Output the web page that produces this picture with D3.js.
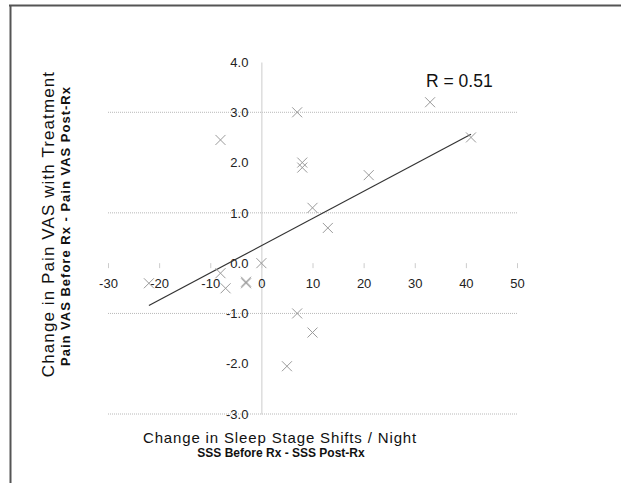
<!DOCTYPE html>
<html>
<head>
<meta charset="utf-8">
<script src="https://cdn.jsdelivr.net/npm/d3@7"></script>
<style>
  body { margin: 0; background: #fff; }
  text { font-family: 'Liberation Sans', Arial, sans-serif; }
</style>
</head>
<body>
<div id="chart"></div>
<script>
// change in sleep stage shifts per night (x) and in pain VAS (y), one per patient
var sssChange = [-22, -8, -8, -7, -3, -3, 0, 7, 8, 8, 10, 13, 21, 33, 41, 7, 10, 5];
var vasChange = [-0.4, 2.45, -0.2, -0.5, -0.4, -0.37, 0.0, 3.0, 2.0, 1.9, 1.1, 0.7, 1.75, 3.2, 2.5, -1.0, -1.38, -2.05];

var xTicks = [-30, -20, -10, 0, 10, 20, 30, 40, 50];
var yTicks = [-3, -2, -1, 0, 1, 2, 3, 4];
var gridValues = [3, 1, -1, -3];
var rLabel = 'R = 0.51';

var data = sssChange.map(function(d, i) {
  return {x: d, y: vasChange[i]};
});

var fullWidth = 621;
var fullHeight = 483;

var svg = d3.select('#chart').append('svg')
  .attr('width', fullWidth)
  .attr('height', fullHeight);

// frame lines, top and left only like the cropped original
svg.append('line')
  .attr('x1', 9).attr('x2', fullWidth)
  .attr('y1', 5.5).attr('y2', 5.5)
  .attr('stroke', '#555').attr('stroke-width', 2);
svg.append('line')
  .attr('x1', 10.5).attr('x2', 10.5)
  .attr('y1', 5).attr('y2', fullHeight)
  .attr('stroke', '#555').attr('stroke-width', 2);

var xScale = d3.scaleLinear()
  .domain([-30, 50])
  .range([108, 517]);

var yScale = d3.scaleLinear()
  .domain([-3, 4])
  .range([414, 62]);

// dotted gridlines only at the odd values
svg.append('g')
  .classed('grid', true)
  .selectAll('line')
    .data(gridValues)
  .enter().append('line')
    .attr('x1', xScale(-30))
    .attr('x2', xScale(50))
    .attr('y1', function(d) { return yScale(d); })
    .attr('y2', function(d) { return yScale(d); })
    .attr('stroke', '#b8b8b8')
    .attr('stroke-dasharray', '1,1');

// y axis crosses at x = 0
var yAxis = d3.axisLeft(yScale)
  .tickValues(yTicks)
  .tickSize(0)
  .tickPadding(13)
  .tickFormat(function(d) { return d.toFixed(1); });

var yAxisG = svg.append('g')
  .classed('y axis', true)
  .attr('transform', 'translate(' + xScale(0) + ',0)')
  .call(yAxis);
yAxisG.select('.domain').attr('stroke', '#ccc');
yAxisG.selectAll('text')
  .attr('font-size', 13)
  .attr('fill', '#222')
  .style('font-family', "'Liberation Sans', Arial, sans-serif");

// x axis crosses at y = 0, no visible line, just small ticks
var xAxis = d3.axisBottom(xScale)
  .tickValues(xTicks)
  .tickSize(5)
  .tickPadding(11)
  .tickFormat(function(d) { return String(d); });

var xAxisG = svg.append('g')
  .classed('x axis', true)
  .attr('transform', 'translate(0,' + yScale(0) + ')')
  .call(xAxis);
xAxisG.select('.domain').remove();
xAxisG.selectAll('line').attr('stroke', '#ccc');
xAxisG.selectAll('text')
  .attr('font-size', 13)
  .attr('fill', '#222')
  .style('font-family', "'Liberation Sans', Arial, sans-serif");

// linear trend line from least squares on the points
var mx = d3.mean(data, function(d) { return d.x; });
var my = d3.mean(data, function(d) { return d.y; });
var sxy = d3.sum(data, function(d) { return (d.x - mx) * (d.y - my); });
var sxx = d3.sum(data, function(d) { return (d.x - mx) * (d.x - mx); });
var slope = sxy / sxx;
var intercept = my - slope * mx;
var xExtent = d3.extent(data, function(d) { return d.x; });

svg.append('path')
  .datum(xExtent.map(function(x) { return [x, intercept + slope * x]; }))
  .attr('fill', 'none')
  .attr('stroke', '#333')
  .attr('stroke-width', 1.2)
  .attr('d', d3.line()
    .x(function(d) { return xScale(d[0]); })
    .y(function(d) { return yScale(d[1]); }));

// x markers
var s = 5;
svg.append('g').classed('points', true)
  .selectAll('path')
    .data(data)
  .enter().append('path')
    .attr('transform', function(d) {
      return 'translate(' + xScale(d.x) + ',' + yScale(d.y) + ')';
    })
    .attr('d', 'M' + -s + ',' + -s + 'L' + s + ',' + s + 'M' + -s + ',' + s + 'L' + s + ',' + -s)
    .attr('fill', 'none')
    .attr('stroke', '#9a9a9a')
    .attr('stroke-width', 1);

svg.append('text')
  .attr('x', 426)
  .attr('y', 87)
  .attr('font-size', 17.5)
  .attr('fill', '#111')
  .text(rLabel);

// axis titles
svg.append('text')
  .attr('x', 280)
  .attr('y', 443)
  .attr('text-anchor', 'middle')
  .attr('font-size', 15)
  .attr('letter-spacing', 0.85)
  .attr('fill', '#111')
  .text('Change in Sleep Stage Shifts / Night');
svg.append('text')
  .attr('x', 281)
  .attr('y', 457)
  .attr('text-anchor', 'middle')
  .attr('font-size', 12)
  .attr('font-weight', 'bold')
  .attr('fill', '#111')
  .text('SSS Before Rx - SSS Post-Rx');

svg.append('text')
  .attr('transform', 'translate(54,224) rotate(-90)')
  .attr('text-anchor', 'middle')
  .attr('font-size', 17)
  .attr('letter-spacing', 1.1)
  .attr('fill', '#111')
  .text('Change in Pain VAS with Treatment');
svg.append('text')
  .attr('transform', 'translate(70,226) rotate(-90)')
  .attr('text-anchor', 'middle')
  .attr('font-size', 13)
  .attr('font-weight', 'bold')
  .attr('letter-spacing', 1)
  .attr('fill', '#111')
  .text('Pain VAS Before Rx - Pain VAS Post-Rx');
</script>
</body>
</html>
